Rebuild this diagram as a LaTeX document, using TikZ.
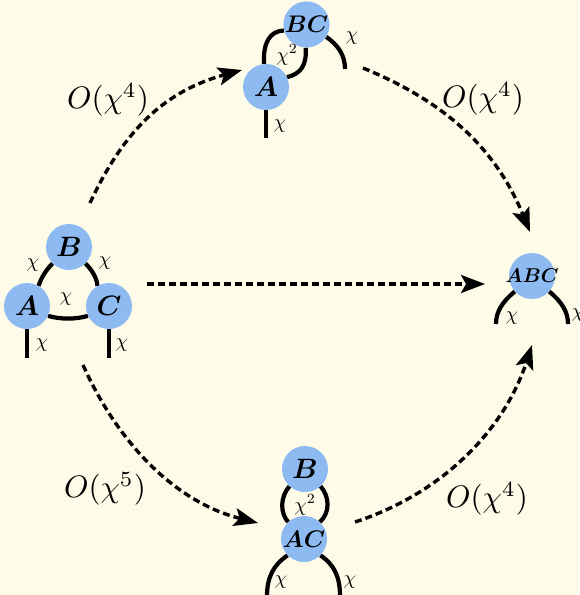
\documentclass[tikz,border=0pt]{standalone}
\usepackage{amsmath,bm}
\usetikzlibrary{arrows.meta}
\definecolor{cream}{HTML}{FEFCE9}
\definecolor{tblue}{HTML}{8EBAF2}
\pgfdeclarelayer{bgl}\pgfdeclarelayer{lns}\pgfsetlayers{bgl,lns,main}
\newcommand\tlab[2][2.8]{\scalebox{#1}{$\boldsymbol{#2}$}}
\begin{document}
\begin{tikzpicture}[x=1pt,y=-1pt,
 tn/.style={circle,fill=tblue,minimum size=46pt,inner sep=0pt},
 leg/.style={line width=4.2pt},
 lab/.style={scale=2,inner sep=0pt},
 ord/.style={scale=3.1,inner sep=0pt},
 flow/.style={line width=3.4pt,dash pattern=on 7pt off 4pt,-{Stealth[length=24pt,width=18pt,inset=5pt]}}]
\useasboundingbox (0,0) rectangle (579,595);
\begin{pgfonlayer}{bgl}
\fill[cream] (0,0) rectangle (579,595);
\end{pgfonlayer}
% triangle
\node[tn] (tB) at (69,247) {\tlab{B}};
\node[tn] (tA) at (27,306) {\tlab{A}};
\node[tn] (tC) at (109,306) {\tlab{C}};
\coordinate (tAe) at (27,358);
\coordinate (tCe) at (109,358);
% top
\node[tn] (uBC) at (306.5,24.5) {\tlab[2.4]{BC}};
\node[tn] (uA) at (266,87) {\tlab{A}};
\coordinate (uRe) at (345,69);
\coordinate (uAe) at (266,138);
% right
\node[tn,inner sep=-8pt] (rABC) at (532,276) {\tlab[2.0]{ABC}};
\coordinate (rLe) at (496,324);
\coordinate (rRe) at (568,324);
% bottom
\node[tn] (bB) at (305,469) {\tlab{B}};
\node[tn] (bAC) at (304,539) {\tlab[2.4]{AC}};
\coordinate (bLe) at (267,596);
\coordinate (bRe) at (340,596);
\begin{pgfonlayer}{lns}
\draw[leg] (tB.225) .. controls (46,270) and (41,278) .. (tA.60);
\draw[leg] (tB.-45) .. controls (92,270) and (97,278) .. (tC.120);
\draw[leg] (tA.-25) .. controls (60,319.5) and (76,319.5) .. (tC.205);
\draw[leg] (tA.-90) -- (tAe);
\draw[leg] (tC.-90) -- (tCe);
\draw[leg] (uA.95) .. controls (263,42) and (270,31) .. (uBC.195);
\draw[leg] (uBC.-92) .. controls (307,66) and (300,74) .. (uA.25);
\draw[leg] (uBC.-32) .. controls (338,45) and (345,55) .. (uRe);
\draw[leg] (uA.-90) -- (uAe);
\draw[leg] (rABC.222) .. controls (502,302) and (496,312) .. (rLe);
\draw[leg] (rABC.-42) .. controls (562,302) and (568,312) .. (rRe);
\draw[leg] (bB.228) .. controls (280,497) and (280,513) .. (bAC.133);
\draw[leg] (bB.-48) .. controls (330,497) and (330,513) .. (bAC.47);
\draw[leg] (bAC.225) .. controls (273,565) and (267,578) .. (bLe);
\draw[leg] (bAC.-45) .. controls (335,565) and (340,578) .. (bRe);
\end{pgfonlayer}
% chi labels
\node[lab] (l1) at (33,265) {$\chi$};
\node[lab] (l2) at (105,263) {$\chi$};
\node[lab] (l3) at (66,299) {$\chi$};
\node[lab] (l4) at (42,345) {$\chi$};
\node[lab] (l5) at (122,345) {$\chi$};
\node[lab] (l6) at (287,55) {$\chi^2$};
\node[lab] (l7) at (352,38) {$\chi$};
\node[lab] (l8) at (280,126) {$\chi$};
\node[lab] (l9) at (512,318) {$\chi$};
\node[lab] (l10) at (578,315) {$\chi$};
\node[lab] (l11) at (305,505) {$\chi^2$};
\node[lab] (l12) at (281,582) {$\chi$};
\node[lab] (l13) at (350,582) {$\chi$};
% arrows
\coordinate (a1s) at (90,203); \coordinate (a1e) at (242,70);
\coordinate (a2s) at (363,68); \coordinate (a2e) at (530,232);
\coordinate (a3s) at (147,284); \coordinate (a3e) at (485,284);
\coordinate (a4s) at (83,365); \coordinate (a4e) at (258,523);
\coordinate (a5s) at (355,522); \coordinate (a5e) at (532,345);
\draw[flow] (a1s) .. controls (124,130) and (165,91) .. (a1e);
\draw[flow] (a2s) .. controls (446,102) and (496,149) .. (a2e);
\draw[flow] (a3s) -- (a3e);
\draw[flow] (a4s) .. controls (118,443) and (175,502) .. (a4e);
\draw[flow] (a5s) .. controls (441,494) and (504,431) .. (a5e);
\node[ord] (o1) at (108,100) {$O(\chi^4)$};
\node[ord] (o2) at (483,99) {$O(\chi^4)$};
\node[ord] (o3) at (105,489) {$O(\chi^5)$};
\node[ord] (o4) at (487,499) {$O(\chi^4)$};
\end{tikzpicture}
\end{document}
